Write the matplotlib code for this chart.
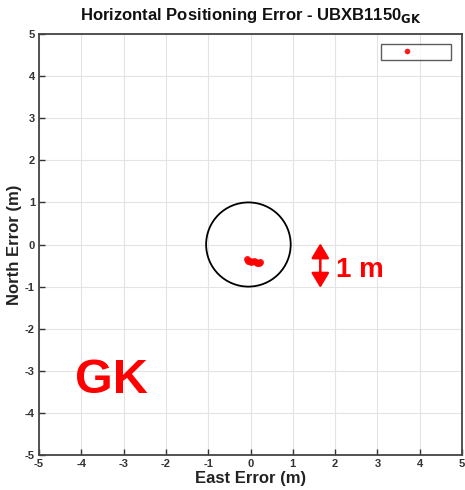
import matplotlib
matplotlib.use("Agg")
import matplotlib.pyplot as plt
import numpy as np
from matplotlib.patches import Circle

plt.rcParams['font.family'] = ['Liberation Sans', 'DejaVu Sans']

# Position error samples (m)
east_err = [-0.08, -0.05, -0.02, 0.02, 0.08, 0.12, 0.16, 0.20, 0.22]
north_err = [-0.35, -0.38, -0.40, -0.41, -0.40, -0.42, -0.44, -0.43, -0.41]

circle_center = (-0.05, 0.0)
circle_radius = 1.0
ticks = [-5, -4, -3, -2, -1, 0, 1, 2, 3, 4, 5]

fig = plt.figure(figsize=(4.65, 4.9), dpi=100)
ax = fig.add_axes([0.084, 0.0714, 0.9095, 0.8592])

ax.plot(east_err, north_err, 'o', color='red', markersize=5, markeredgewidth=0,
        alpha=0.9, label='      ')
ax.add_patch(Circle(circle_center, circle_radius, fill=False, color='black', lw=1.3))

# Scale marker for 1 m
ax.annotate('', xy=(1.65, -1.03), xytext=(1.65, 0.03),
            arrowprops=dict(arrowstyle='<|-|>,head_length=0.45,head_width=0.27',
                            color='red', lw=1.8,
                            mutation_scale=20, shrinkA=0, shrinkB=0))
ax.text(2.03, -0.6, '1 m', color='red', fontsize=20, fontweight='bold',
        va='center', ha='left')
ax.text(-4.16, -3.23, 'GK', color='red', fontsize=35, fontweight='bold',
        va='center', ha='left')

ax.set_xlim(-5, 5)
ax.set_ylim(-5, 5)
ax.set_xticks(ticks)
ax.set_yticks(ticks)
ax.set_xticklabels([str(t) for t in ticks])
ax.set_yticklabels([str(t) for t in ticks])
ax.grid(True, color='#e3e3e3', lw=0.8)
ax.set_axisbelow(True)
ax.tick_params(direction='in', length=4, width=1, colors='#333333',
               labelsize=8, pad=3, top=False, right=False)
for lab in ax.get_xticklabels() + ax.get_yticklabels():
    lab.set_fontweight('bold')
for s in ax.spines.values():
    s.set_color('#444444')
    s.set_linewidth(1.3)

ax.set_xlabel('East Error (m)', fontsize=12, fontweight='bold', color='#222222', labelpad=1)
ax.set_ylabel('North Error (m)', fontsize=12, fontweight='bold', color='#222222', labelpad=2)
ax.set_title(r'Horizontal Positioning Error - UBXB1150$_{\mathbf{GK}}$', fontsize=12,
             fontweight='bold', color='#111111', pad=10)

leg = ax.legend(loc='upper right', bbox_to_anchor=(0.974, 0.976), borderaxespad=0,
                frameon=True, fancybox=False, handlelength=4.1, handletextpad=0,
                borderpad=0.25, fontsize=8, markerscale=0.8)
leg.get_frame().set_edgecolor('#333333')
leg.get_frame().set_linewidth(1.0)

fig.savefig('out.png', dpi=100)
